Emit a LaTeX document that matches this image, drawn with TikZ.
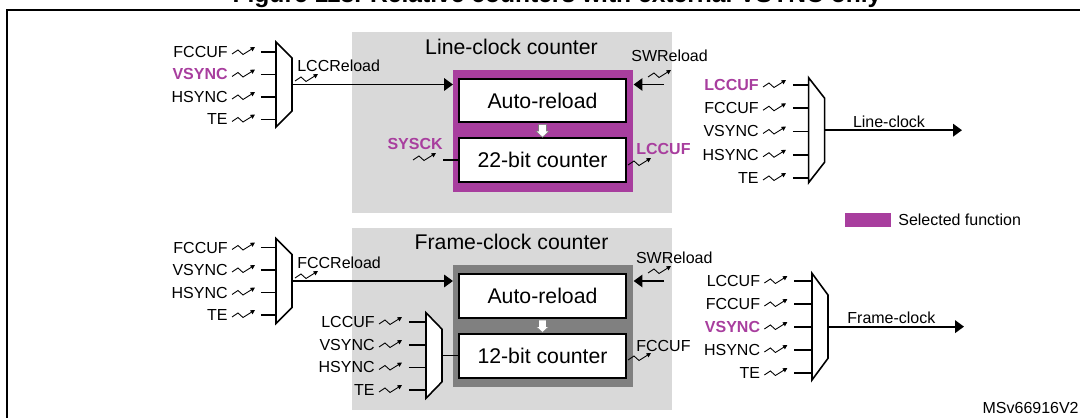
\documentclass[tikz,border=0pt]{standalone}
\usepackage{fontspec}
\setmainfont{Liberation Sans}
\usepackage{tikz}
\usetikzlibrary{arrows.meta,calc}
\usepackage{xcolor}
\definecolor{stpurple}{RGB}{168,62,158}
\definecolor{stgray}{RGB}{217,217,217}
\definecolor{stdarkgray}{RGB}{128,128,128}
\tikzstyle{wire} = [line width=1.1pt]
\tikzstyle{sigarrow} = [line width=1.1pt,-{Triangle[length=5pt,width=7pt]}]
\tikzstyle{lbl} = [inner sep=0pt, font=\fontsize{9.1}{11}\selectfont]
\tikzstyle{sellbl} = [lbl, text=stpurple, font=\fontsize{9.1}{11}\selectfont\bfseries]
\tikzstyle{bigtxt} = [inner sep=0pt, font=\fontsize{12.1}{14}\selectfont]
\tikzstyle{counterbox} = [rectangle, draw, line width=1.1pt, fill=white, minimum width=3.33cm, minimum height=0.87cm, inner sep=0pt, font=\fontsize{12.1}{14}\selectfont]
\tikzset{
  pics/mux/.style 2 args={code={
    \draw[line width=0.9pt, fill=white] (0,0) -- (16,#2) -- (16,#1-#2) -- (0,#1) -- cycle;
    \coordinate (-w) at (0,#1/2);
    \coordinate (-out) at (16,#1/2);
  }},
  pics/trig/.style={code={
    \draw[line width=0.5pt, -{Triangle[length=2.5pt,width=2.5pt]}] (0,0) -- (6,-4) -- (11,0.5) -- (23,-7);
  }},
  pics/blkdown/.style={code={
    \filldraw[fill=white, draw=gray, line width=0.3pt] (-4,1.5) -- (4,1.5) -- (4,8) -- (6.5,8) -- (0,14) -- (-6.5,8) -- (-4,8) -- cycle;
  }}
}

\begin{document}
\begin{tikzpicture}[x=0.02cm, y=-0.02cm]
    \useasboundingbox (0,0) rectangle (1080,418);
    \clip (0,0) rectangle (1080,418);

    % Title and frame
    \node[font=\fontsize{14}{16}\selectfont\bfseries, anchor=base] (title) at (557,2.5) {Figure 118. Relative counters with external VSYNC only};
    \draw[line width=1.7pt] (7,440) |- (1100,10);

    % Counter blocks
    \node[rectangle, fill=stgray, minimum width=6.41cm, minimum height=3.62cm] (lcc) at (511.9,122.8) {};
    \node[rectangle, fill=stgray, minimum width=6.41cm, minimum height=3.63cm] (fcc) at (511.9,319.2) {};
    \node[rectangle, fill=stpurple, minimum width=3.6cm, minimum height=2.43cm] (lccsel) at (543.3,130.9) {};
    \node[rectangle, fill=stdarkgray, minimum width=3.6cm, minimum height=2.43cm] (fccsel) at (543.3,325.9) {};
    \node[counterbox] (lccar) at (542.5,100.5) {Auto-reload};
    \node[counterbox] (lcccnt) at (542.5,160) {22-bit counter};
    \node[counterbox] (fccar) at (542.5,295.8) {Auto-reload};
    \node[counterbox] (fcccnt) at (542.5,355.8) {12-bit counter};
    \pic at (lccar.south) {blkdown};
    \pic at (fccar.south) {blkdown};
    \node[bigtxt, anchor=base] (lcctitle) at (511.5,54.3) {Line-clock counter};
    \node[bigtxt, anchor=base] (fcctitle) at (511.5,249.3) {Frame-clock counter};

    % Line-clock reload mux
    \pic (mA) at (276,42) {mux={85}{16}};
    \node[lbl, anchor=east] (a1) at (228,52) {FCCUF};
    \node[sellbl, anchor=east] (a2) at (228,74.5) {VSYNC};
    \node[lbl, anchor=east] (a3) at (228,97) {HSYNC};
    \node[lbl, anchor=east] (a4) at (228,119.5) {TE};
    \pic at ($(a1.east)+(4,2)$) {trig};
    \pic at ($(a2.east)+(4,2)$) {trig};
    \pic at ($(a3.east)+(4,2)$) {trig};
    \pic at ($(a4.east)+(4,2)$) {trig};
    \draw[wire, shorten <=0.66cm] (a1.east) -- (a1 -| mA-w);
    \draw[wire, shorten <=0.66cm] (a2.east) -- (a2 -| mA-w);
    \draw[wire, shorten <=0.66cm] (a3.east) -- (a3 -| mA-w);
    \draw[wire, shorten <=0.66cm] (a4.east) -- (a4 -| mA-w);
    \node[lbl, anchor=base west] (lccrl) at (297,71.7) {LCCReload};
    \pic at (295,81) {trig};
    \draw[sigarrow] (mA-out) -- (mA-out -| lccsel.west);

    % Line-clock counter signals
    \node[lbl, anchor=base west] (swrl1) at (631,61.7) {SWReload};
    \pic at (648,77) {trig};
    \coordinate (sw1) at (664,84.5);
    \draw[sigarrow] (sw1) -- (sw1 -| lccsel.east);
    \node[sellbl, anchor=base east] (sysck) at (443,150) {SYSCK};
    \pic at (413,160) {trig};
    \draw[wire] (sysck.east |- lcccnt) -- (lcccnt.west);
    \node[sellbl, anchor=base west] (lccuf) at (636,155) {LCCUF};
    \pic at (628,165) {trig};

    % Line-clock output mux
    \pic (mC) at (808.6,77.7) {mux={105}{20.5}};
    \node[sellbl, anchor=east] (c1) at (759,85) {LCCUF};
    \node[lbl, anchor=east] (c2) at (759,108.25) {FCCUF};
    \node[lbl, anchor=east] (c3) at (759,131.5) {VSYNC};
    \node[lbl, anchor=east] (c4) at (759,154.75) {HSYNC};
    \node[lbl, anchor=east] (c5) at (759,178) {TE};
    \pic at ($(c1.east)+(4,2)$) {trig};
    \pic at ($(c2.east)+(4,2)$) {trig};
    \pic at ($(c3.east)+(4,2)$) {trig};
    \pic at ($(c4.east)+(4,2)$) {trig};
    \pic at ($(c5.east)+(4,2)$) {trig};
    \draw[wire, shorten <=0.68cm] (c1.east) -- (c1 -| mC-w);
    \draw[wire, shorten <=0.68cm] (c2.east) -- (c2 -| mC-w);
    \draw[wire, shorten <=0.68cm] (c3.east) -- (c3 -| mC-w);
    \draw[wire, shorten <=0.68cm] (c4.east) -- (c4 -| mC-w);
    \draw[wire, shorten <=0.68cm] (c5.east) -- (c5 -| mC-w);
    \coordinate (lcout) at (962,130.2);
    \draw[sigarrow] (mC-out) -- (mC-out -| lcout);
    \node[lbl, anchor=base] (lclk) at (889,127.5) {Line-clock};

    % Legend
    \node[rectangle, fill=stpurple, minimum width=0.93cm, minimum height=0.28cm, inner sep=0pt] (key) at (868,220.3) {};
    \node[lbl, anchor=base west] (keytxt) at (898,225.7) {Selected function};

    % Frame-clock reload mux
    \pic (mB) at (276,238.5) {mux={85}{16}};
    \node[lbl, anchor=east] (b1) at (228,247.5) {FCCUF};
    \node[lbl, anchor=east] (b2) at (228,270) {VSYNC};
    \node[lbl, anchor=east] (b3) at (228,292.5) {HSYNC};
    \node[lbl, anchor=east] (b4) at (228,315) {TE};
    \pic at ($(b1.east)+(4,2)$) {trig};
    \pic at ($(b2.east)+(4,2)$) {trig};
    \pic at ($(b3.east)+(4,2)$) {trig};
    \pic at ($(b4.east)+(4,2)$) {trig};
    \draw[wire, shorten <=0.66cm] (b1.east) -- (b1 -| mB-w);
    \draw[wire, shorten <=0.66cm] (b2.east) -- (b2 -| mB-w);
    \draw[wire, shorten <=0.66cm] (b3.east) -- (b3 -| mB-w);
    \draw[wire, shorten <=0.66cm] (b4.east) -- (b4 -| mB-w);
    \node[lbl, anchor=base west] (fccrl) at (297,268.3) {FCCReload};
    \pic at (295,278) {trig};
    \draw[sigarrow] (mB-out) -- (mB-out -| fccsel.west);

    % Frame-clock counter signals
    \node[lbl, anchor=base west] (swrl2) at (635.7,263.3) {SWReload};
    \pic at (648,273) {trig};
    \coordinate (sw2) at (664,281);
    \draw[sigarrow] (sw2) -- (sw2 -| fccsel.east);
    \node[lbl, anchor=base west] (fccuf) at (636,351.7) {FCCUF};
    \pic at (628,360) {trig};

    % Frame-clock counter clock mux
    \pic (mE) at (426,312.7) {mux={85.6}{16.5}};
    \node[lbl, anchor=east] (e1) at (375,322) {LCCUF};
    \node[lbl, anchor=east] (e2) at (375,345) {VSYNC};
    \node[lbl, anchor=east] (e3) at (375,367.5) {HSYNC};
    \node[lbl, anchor=east] (e4) at (375,390) {TE};
    \pic at ($(e1.east)+(4,2)$) {trig};
    \pic at ($(e2.east)+(4,2)$) {trig};
    \pic at ($(e3.east)+(4,2)$) {trig};
    \pic at ($(e4.east)+(4,2)$) {trig};
    \draw[wire, shorten <=0.68cm] (e1.east) -- (e1 -| mE-w);
    \draw[wire, shorten <=0.68cm] (e2.east) -- (e2 -| mE-w);
    \draw[wire, shorten <=0.68cm] (e3.east) -- (e3 -| mE-w);
    \draw[wire, shorten <=0.68cm] (e4.east) -- (e4 -| mE-w);
    \draw[wire] (mE-out) -- (mE-out -| fcccnt.west);

    % Frame-clock output mux
    \pic (mD) at (812,273.3) {mux={106.7}{21.7}};
    \node[lbl, anchor=east] (d1) at (760.4,281) {LCCUF};
    \node[lbl, anchor=east] (d2) at (760.4,304) {FCCUF};
    \node[sellbl, anchor=east] (d3) at (760.4,327) {VSYNC};
    \node[lbl, anchor=east] (d4) at (760.4,350) {HSYNC};
    \node[lbl, anchor=east] (d5) at (760.4,373) {TE};
    \pic at ($(d1.east)+(4,2)$) {trig};
    \pic at ($(d2.east)+(4,2)$) {trig};
    \pic at ($(d3.east)+(4,2)$) {trig};
    \pic at ($(d4.east)+(4,2)$) {trig};
    \pic at ($(d5.east)+(4,2)$) {trig};
    \draw[wire, shorten <=0.68cm] (d1.east) -- (d1 -| mD-w);
    \draw[wire, shorten <=0.68cm] (d2.east) -- (d2 -| mD-w);
    \draw[wire, shorten <=0.68cm] (d3.east) -- (d3 -| mD-w);
    \draw[wire, shorten <=0.68cm] (d4.east) -- (d4 -| mD-w);
    \draw[wire, shorten <=0.68cm] (d5.east) -- (d5 -| mD-w);
    \coordinate (fcout) at (964,326.7);
    \draw[sigarrow] (mD-out) -- (mD-out -| fcout);
    \node[lbl, anchor=base] (fclk) at (891.4,324) {Frame-clock};

    \node[lbl, anchor=base east] (ref) at (1079,413.5) {MSv66916V2};
\end{tikzpicture}
\end{document}
